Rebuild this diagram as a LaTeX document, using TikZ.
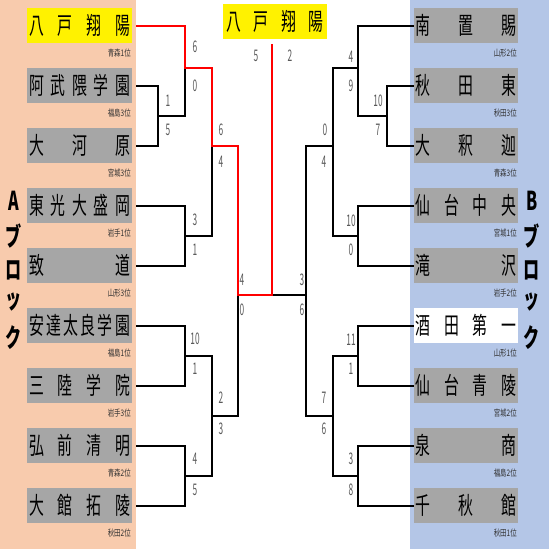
\documentclass[tikz,border=0pt]{standalone}
\usepackage{fontspec}
\setmainfont{Noto Sans CJK JP}
\newfontfamily\teamfont[FakeStretch=0.62]{Noto Sans CJK JP}
\newfontfamily\labfont[FakeStretch=0.72]{Noto Sans CJK JP}
\newfontfamily\scfont[FakeStretch=0.52]{Noto Sans CJK JP}
\newfontfamily\blkfont[FakeStretch=0.62]{Noto Sans CJK JP}
\definecolor{peach}{HTML}{F8CBAD}
\definecolor{bluebg}{HTML}{B4C6E7}
\definecolor{boxgray}{HTML}{A6A6A6}
\definecolor{scoregray}{HTML}{595959}
\definecolor{labgray}{HTML}{333333}
\newcommand\tn[1]{\hbox to 101pt{#1}}
\begin{document}
\begin{tikzpicture}[x=1pt,y=-1pt,
  team/.style={fill=boxgray, minimum width=105pt, minimum height=35pt, inner sep=0pt,
    font=\teamfont\fontsize{24}{24}\selectfont},
  lab/.style={inner sep=0pt, text=labgray, font=\labfont\fontsize{9}{9}\selectfont},
  score/.style={inner sep=0pt, text=scoregray, font=\scfont\fontsize{16}{16}\selectfont},
  blk/.style={inner sep=0pt, font=\blkfont\bfseries\fontsize{26}{26}\selectfont},
  br/.style={line width=2pt, black},
  win/.style={line width=2pt, red}]
\useasboundingbox (0,0) rectangle (549,549);
\fill[white] (0,0) rectangle (549,549);
\fill[peach] (0,0) rectangle (136,549);
\fill[bluebg] (410,0) rectangle (549,549);
% teams
\foreach \t/\lab/\c [count=\k from 0] in {
  {八\hfill 戸\hfill 翔\hfill 陽}/青森1位/yellow,
  {阿\hfill 武\hfill 隈\hfill 学\hfill 園}/福島3位/boxgray,
  {大\hfill 河\hfill 原}/宮城3位/boxgray,
  {東\hfill 光\hfill 大\hfill 盛\hfill 岡}/岩手1位/boxgray,
  {致\hfill 道}/山形3位/boxgray,
  {安\hfill 達\hfill 太\hfill 良\hfill 学\hfill 園}/福島1位/boxgray,
  {三\hfill 陸\hfill 学\hfill 院}/岩手3位/boxgray,
  {弘\hfill 前\hfill 清\hfill 明}/青森2位/boxgray,
  {大\hfill 館\hfill 拓\hfill 陵}/秋田2位/boxgray}{
  \node[team, fill=\c] (L\k) at (79.5,{25.5+60*\k}) {\tn{\t}};
  \node[lab, anchor=east] (LL\k) at (131,{53.5+60*\k}) {\lab};
}
\foreach \t/\lab/\c [count=\k from 0] in {
  {南\hfill 置\hfill 賜}/山形2位/boxgray,
  {秋\hfill 田\hfill 東}/秋田3位/boxgray,
  {大\hfill 釈\hfill 迦}/青森3位/boxgray,
  {仙\hfill 台\hfill 中\hfill 央}/宮城1位/boxgray,
  {滝\hfill 沢}/岩手2位/boxgray,
  {酒\hfill 田\hfill 第\hfill 一}/山形1位/white,
  {仙\hfill 台\hfill 青\hfill 陵}/宮城2位/boxgray,
  {泉\hfill 商}/福島2位/boxgray,
  {千\hfill 秋\hfill 館}/秋田1位/boxgray}{
  \node[team, fill=\c, minimum width=104pt] (R\k) at (466,{25.5+60*\k}) {\tn{\t}};
  \node[lab, anchor=east] (RL\k) at (517,{53.5+60*\k}) {\lab};
}
% champion
\node[team, fill=yellow, minimum width=104pt] (champ) at (275,21.5) {\hbox to 97pt{八\hfill 戸\hfill 翔\hfill 陽}};
% block labels
\foreach \c/\y [count=\k] in {A/201,ブ/236,ロ/270,ッ/302,ク/338}{
  \node[blk] (A\k) at (14,\y) {\c};
  \node[blk] (B\k) at (532,\y) {\ifnum\k=1 B\else\c\fi};
}
% join coordinates
\coordinate (m1) at (158,115.5);
\coordinate (m2) at (185,68);
\coordinate (m3) at (185,235.5);
\coordinate (m4) at (212,146);
\coordinate (m5) at (185,355.5);
\coordinate (m6) at (185,475.5);
\coordinate (m7) at (212,415.5);
\coordinate (m8) at (238,295);
\coordinate (n1) at (387,115.5);
\coordinate (n2) at (358,68);
\coordinate (n3) at (358,235.5);
\coordinate (n4) at (333,146);
\coordinate (n5) at (358,355.5);
\coordinate (n6) at (358,475.5);
\coordinate (n7) at (333,415.5);
\coordinate (n8) at (306,295);
\coordinate (fj) at (272,295);
\coordinate (top) at (272,44);
% left bracket
\draw[br] ([xshift=4pt]L1.east) -| (m1);
\draw[br] ([xshift=4pt]L2.east) -| (m1);
\draw[br] ([xshift=4pt]L0.east) -| (m2);
\draw[br] (m1) -| (m2);
\draw[br] ([xshift=4pt]L3.east) -| (m3);
\draw[br] ([xshift=4pt]L4.east) -| (m3);
\draw[br] (m2) -| (m4);
\draw[br] (m3) -| (m4);
\draw[br] ([xshift=4pt]L5.east) -| (m5);
\draw[br] ([xshift=4pt]L6.east) -| (m5);
\draw[br] ([xshift=4pt]L7.east) -| (m6);
\draw[br] ([xshift=4pt]L8.east) -| (m6);
\draw[br] (m5) -| (m7);
\draw[br] (m6) -| (m7);
\draw[br] (m4) -| (m8);
\draw[br] (m7) -| (m8);
% right bracket
\draw[br] (R1.west) -| (n1);
\draw[br] (R2.west) -| (n1);
\draw[br] (R0.west) -| (n2);
\draw[br] (n1) -| (n2);
\draw[br] (R3.west) -| (n3);
\draw[br] (R4.west) -| (n3);
\draw[br] (n2) -| (n4);
\draw[br] (n3) -| (n4);
\draw[br] (R5.west) -| (n5);
\draw[br] (R6.west) -| (n5);
\draw[br] (R7.west) -| (n6);
\draw[br] (R8.west) -| (n6);
\draw[br] (n5) -| (n7);
\draw[br] (n6) -| (n7);
\draw[br] (n4) -| (n8);
\draw[br] (n7) -| (n8);
\draw[br] (n8) -- (fj);
% winner path
\draw[win] ([xshift=4pt]L0.east) -| (m2) -| (m4) -| (m8) -- (fj) -- (top);
% scores
\foreach \x/\y/\s [count=\k] in {
  195/47/6, 195/86/0, 168/101/1, 168/130/5, 195/220/3, 195/250/1,
  221/130/6, 221/162/4, 195/339/10, 195/369/1, 195/459/4, 195/490/5,
  221/398/2, 221/429/3, 242/280/4, 242/310/0,
  351/57/4, 351/86/9, 378/101/10, 378/130/7, 325/130/0, 324/162/4,
  351/221/10, 351/250/0, 351/340/11, 351/369/1, 351/459/3, 351/490/8,
  324/398/7, 324/429/6, 302/280/3, 302/310/6, 256/56/5, 290/56/2}{
  \node[score] (s\k) at (\x,\y) {\s};
}
\end{tikzpicture}
\end{document}
